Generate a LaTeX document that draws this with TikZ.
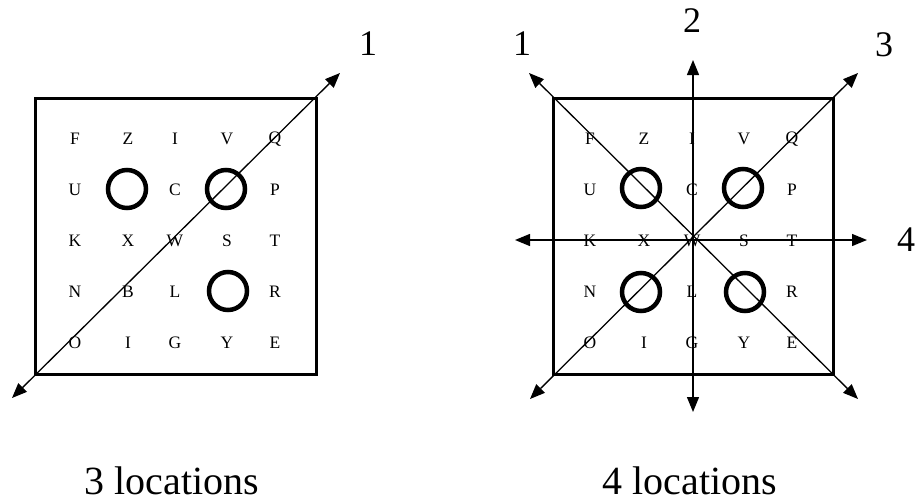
\documentclass[tikz,border=0pt]{standalone}
\usepackage{fontspec}
\setmainfont{Liberation Serif}
\usetikzlibrary{arrows.meta}
\begin{document}
\begin{tikzpicture}[x=1pt,y=-1pt,
  frame/.style={draw=black,line width=3pt},
  ring/.style={draw=black,line width=4.5pt,circle,minimum size=38pt,inner sep=0pt},
  letter/.style={font=\fontsize{17.5}{17.5}\selectfont,inner sep=0pt},
  num/.style={font=\fontsize{36}{36}\selectfont,inner sep=0pt},
  captext/.style={font=\fontsize{40}{40}\selectfont,inner sep=0pt},
  axis/.style={draw=black,line width=1.3pt,{Triangle[length=15pt,width=12pt]}-{Triangle[length=15pt,width=12pt]}}]
\useasboundingbox (0,0) rectangle (915,503);
% ---------- left panel ----------
\node[frame,minimum width=281pt,minimum height=276pt,inner sep=0pt] (sqL) at (176,236) {};
\foreach \t/\x/\r in {F/75/1,Z/128/1,I/175/1,V/227/1,Q/275/1,
                     U/75/2,C/175/2,P/275/2,
                     K/75/3,X/128/3,W/175/3,S/227/3,T/275/3,
                     N/75/4,B/128/4,L/175/4,R/275/4,
                     O/75/5,I/128/5,G/175/5,Y/227/5,E/275/5}{
  \node[letter] (L\x\r) at (\x,{139+51*(\r-1)}) {\t};
}
\node[ring] (cL1) at (127,189) {};
\node[ring] (cL2) at (226,189) {};
\node[ring] (cL3) at (228,291) {};
\coordinate (aL1) at (12,398);
\coordinate (aL2) at (340,73);
\draw[axis] (aL1) -- (aL2);
\node[num] (nL1) at (368,44) {1};
\node[captext] (capL) at (172,481) {3 locations};
% ---------- right panel ----------
\node[frame,minimum width=280pt,minimum height=276pt,inner sep=0pt] (sqR) at (693,236) {};
\foreach \t/\x/\r in {F/590/1,Z/644/1,I/692/1,V/744/1,Q/792/1,
                     U/590/2,C/692/2,P/792/2,
                     K/590/3,X/644/3,W/692/3,S/744/3,T/792/3,
                     N/590/4,L/692/4,R/792/4,
                     O/590/5,I/644/5,G/692/5,Y/744/5,E/792/5}{
  \node[letter] (R\x\r) at (\x,{139+51*(\r-1)}) {\t};
}
\node[ring] (cR1) at (641,188) {};
\node[ring] (cR2) at (743,188) {};
\node[ring] (cR3) at (641,292) {};
\node[ring] (cR4) at (745,292) {};
\coordinate (vT) at (693,60);
\coordinate (vB) at (693,412);
\coordinate (hL) at (515,240);
\coordinate (hR) at (867,240);
\coordinate (d1a) at (529,73);
\coordinate (d1b) at (858,399);
\coordinate (d3a) at (530,399);
\coordinate (d3b) at (858,73);
\draw[axis] (vB) -- (vT);
\draw[axis] (hL) -- (hR);
\draw[axis] (d1b) -- (d1a);
\draw[axis] (d3a) -- (d3b);
\node[num] (nR1) at (522,44) {1};
\node[num] (nR2) at (692,21) {2};
\node[num] (nR3) at (884,45) {3};
\node[num] (nR4) at (906,240) {4};
\node[captext] (capR) at (690,481) {4 locations};
\end{tikzpicture}
\end{document}
